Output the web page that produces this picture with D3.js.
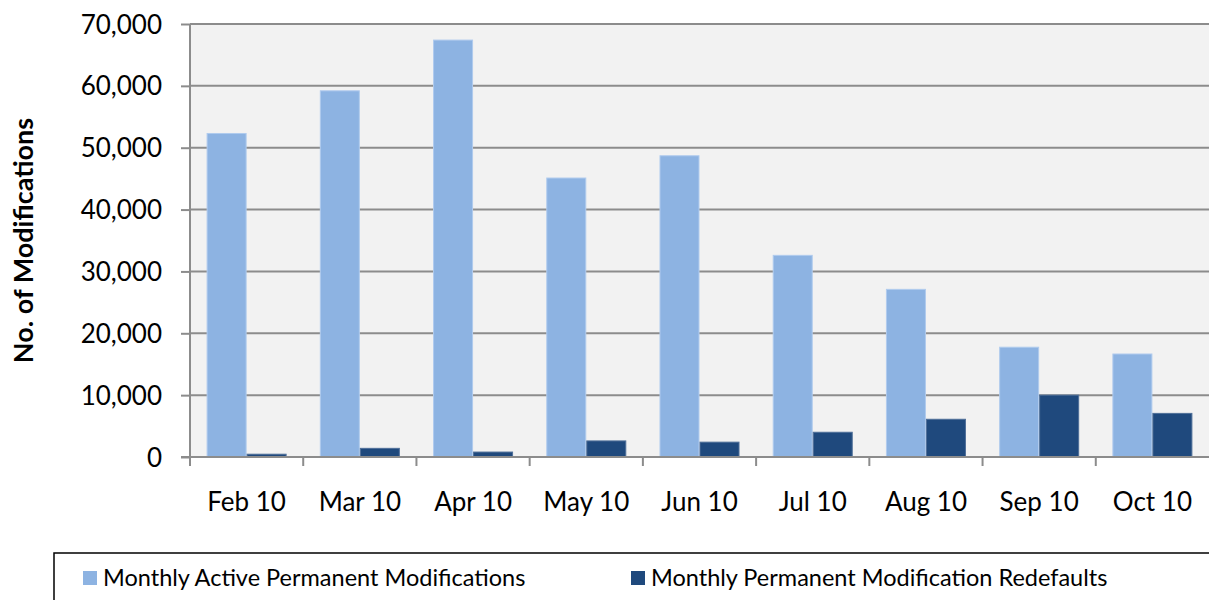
<!DOCTYPE html>
<html>
<head>
<meta charset="utf-8">
<script src="https://cdn.jsdelivr.net/npm/d3@7"></script>
<style>
  body { margin: 0; background: #fff; }
  svg { display: block; }
  svg text { font-family: Lato, "Open Sans", sans-serif; fill: #000; }
</style>
</head>
<body>
<svg id="chart" width="1209" height="600"></svg>
<script>
// Chart data
const months = ['Feb 10', 'Mar 10', 'Apr 10', 'May 10', 'Jun 10', 'Jul 10', 'Aug 10', 'Sep 10', 'Oct 10'];
const activeMods = [52300, 59200, 67400, 45100, 48700, 32600, 27100, 17750, 16650];
const redefaults = [450, 1400, 800, 2600, 2400, 4000, 6100, 10000, 7050];
const seriesNames = ['Monthly Active Permanent Modifications', 'Monthly Permanent Modification Redefaults'];
const yTicks = [0, 10000, 20000, 30000, 40000, 50000, 60000, 70000];

const colors = ['#8DB3E2', '#1F497D'];
const strokes = ['#B0CBEE', '#4F6F99'];

const svg = d3.select('#chart');
const margin = { left: 190, right: 0, top: 24, bottom: 143 };
const W = 1209, H = 600;

const x = d3.scaleBand()
  .domain(months)
  .range([margin.left, W - margin.right])
  .paddingInner(0)
  .paddingOuter(0);

const y = d3.scaleLinear()
  .domain([0, 70000])
  .range([H - margin.bottom, margin.top]);

const inner = d3.scaleBand()
  .domain([0, 1])
  .range([0, x.bandwidth()])
  .paddingInner(0)
  .paddingOuter(0.415);

// Plot background
svg.append('rect')
  .attr('x', margin.left)
  .attr('y', margin.top)
  .attr('width', W - margin.left - margin.right)
  .attr('height', y(0) - margin.top)
  .style('fill', '#F2F2F2');

// Gridlines
svg.append('g')
  .selectAll('line')
  .data(yTicks.slice(1))
  .join('line')
  .attr('x1', margin.left)
  .attr('x2', W)
  .attr('y1', d => y(d))
  .attr('y2', d => y(d))
  .style('stroke', '#8C8C8C')
  .style('stroke-width', 2);

// Bars
const groups = svg.append('g')
  .selectAll('g')
  .data(months)
  .join('g')
  .attr('transform', d => `translate(${x(d)},0)`);

groups.each(function(m, i) {
  const g = d3.select(this);
  [activeMods[i], redefaults[i]].forEach((v, s) => {
    g.append('rect')
      .attr('x', inner(s) + 0.5)
      .attr('y', y(v))
      .attr('width', inner.bandwidth() - 1)
      .attr('height', y(0) - y(v))
      .style('fill', colors[s])
      .style('stroke', strokes[s])
      .style('stroke-width', 1);
  });
});

// Y axis
const yAxis = svg.append('g')
  .attr('transform', `translate(${margin.left},0)`)
  .call(d3.axisLeft(y).tickValues(yTicks).tickFormat(d3.format(',')).tickSize(9).tickPadding(19));
yAxis.attr('font-family', null);
yAxis.select('.domain').style('stroke', '#8C8C8C').style('stroke-width', 2)
  .attr('d', `M0,${margin.top}V${y(0)}`);
yAxis.selectAll('.tick line').style('stroke', '#8C8C8C').style('stroke-width', 2);
yAxis.selectAll('.tick text').style('font-size', '26px').attr('dy', '0.35em');

// X axis
const xAxis = svg.append('g')
  .attr('transform', `translate(0,${y(0)})`)
  .call(d3.axisBottom(x).tickSize(0).tickPadding(36));
xAxis.attr('font-family', null);
xAxis.select('.domain').style('stroke', '#8C8C8C').style('stroke-width', 2)
  .attr('d', `M${margin.left - 9},0H${W}`);
xAxis.selectAll('.tick text').style('font-size', '26px');

// Category separator ticks
svg.append('g')
  .selectAll('line')
  .data(months)
  .join('line')
  .attr('x1', d => x(d))
  .attr('x2', d => x(d))
  .attr('y1', y(0))
  .attr('y2', y(0) + 9)
  .style('stroke', '#8C8C8C')
  .style('stroke-width', 2);

// Y axis title
svg.append('text')
  .attr('transform', `translate(33,${(margin.top + y(0)) / 2}) rotate(-90)`)
  .attr('text-anchor', 'middle')
  .style('font-size', '27px')
  .style('font-weight', 'bold')
  .text('No. of Modifications');

// Legend
svg.append('rect')
  .attr('x', 54)
  .attr('y', 553)
  .attr('width', 1200)
  .attr('height', 60)
  .style('fill', '#fff')
  .style('stroke', '#000')
  .style('stroke-width', 1.5);

const legendX = [83, 631];
const legend = svg.append('g')
  .selectAll('g')
  .data(seriesNames)
  .join('g')
  .attr('transform', (d, i) => `translate(${legendX[i]},571)`);

legend.append('rect')
  .attr('width', 14)
  .attr('height', 14)
  .style('fill', (d, i) => colors[i]);

legend.append('text')
  .attr('x', 20)
  .attr('y', 7)
  .attr('dy', '0.35em')
  .style('font-size', '23.5px')
  .text(d => d);
</script>
</body>
</html>
